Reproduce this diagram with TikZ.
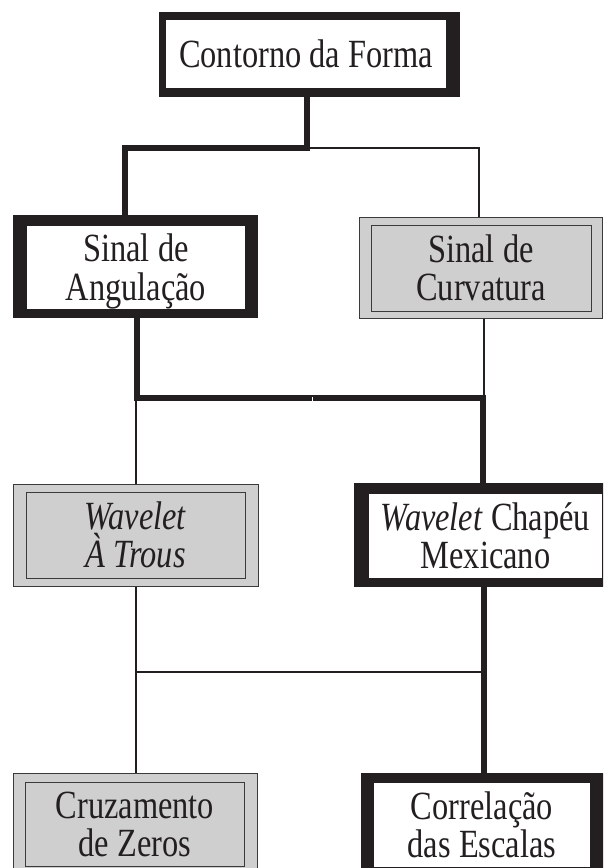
\documentclass[tikz,border=0pt]{standalone}
\usepackage{fontspec}
\setmainfont{Liberation Serif}[FakeStretch=0.81]
\definecolor{ink}{HTML}{231F20}
\definecolor{boxgray}{RGB}{207,207,207}
\definecolor{edge}{HTML}{3A3A3A}
\newcommand{\topstrut}{\rule{0pt}{36pt}}
\newcommand{\botstrut}{\rule[-9pt]{0pt}{9pt}}
\begin{document}
\begin{tikzpicture}[x=1pt,y=-1pt,
  blackout/.style={rectangle, fill=ink, draw=none, inner sep=0pt, outer sep=0pt},
  whitein/.style={rectangle, fill=white, draw=none, inner sep=0pt, outer sep=0pt, align=center, font=\fontsize{40}{38.5}\selectfont, text=ink},
  grayout/.style={rectangle, fill=boxgray, draw=edge, line width=1pt, inner sep=0pt},
  grayin/.style={rectangle, fill=none, draw=edge, line width=1pt, inner sep=0pt, align=center, font=\fontsize{40}{38.5}\selectfont, text=ink},
  thinln/.style={draw=ink, line width=1.2pt},
  thickln/.style={draw=ink, line width=5.5pt, line join=miter},
]
\useasboundingbox (0,0) rectangle (603,868);
\clip (0,0) rectangle (603,868);
\fill[white] (0,0) rectangle (603,868);

\coordinate (h1L) at (125,148);
\coordinate (h1M) at (307,148);
\coordinate (h1R) at (479,148);
\coordinate (t2L) at (136,396);
\coordinate (t2R) at (484,396);
\coordinate (h2L) at (137,398);
\coordinate (h2M1) at (311.5,398);
\coordinate (h2M2) at (312.5,398);
\coordinate (h2R) at (483,398);
\coordinate (h3L) at (136,672);
\coordinate (h3R) at (484,672);

\node[blackout, minimum width=301pt, minimum height=85pt] (topo) at (309.5,54.5) {};
\node[whitein, minimum width=280pt, minimum height=68pt] (topoi) at (306,54) {\topstrut Contorno da Forma\botstrut};

\node[blackout, minimum width=245pt, minimum height=103pt] (ang) at (135.5,266.5) {};
\node[whitein, minimum width=218pt, minimum height=83pt] (angi) at (136,267.5) {\topstrut Sinal de\\Angulação\botstrut};

\node[grayout, minimum width=243pt, minimum height=101pt] (curv) at (480.5,267.5) {};
\node[grayin, minimum width=220pt, minimum height=86pt] (curvi) at (481,268) {\topstrut Sinal de\\Curvatura\botstrut};

\node[grayout, minimum width=245pt, minimum height=102pt] (atr) at (135.5,535) {};
\node[grayin, minimum width=219pt, minimum height=86pt] (atri) at (135.5,535) {\topstrut\textit{Wavelet}\\\textit{À Trous}\botstrut};

\node[blackout, minimum width=261pt, minimum height=104pt] (chap) at (484.5,535) {};
\node[whitein, minimum width=233pt, minimum height=84pt] (chapi) at (485.5,536) {\topstrut\textit{Wavelet} Chapéu\\Mexicano\botstrut};

\node[grayout, minimum width=244pt, minimum height=102pt] (cruz) at (135,824) {};
\node[grayin, minimum width=219pt, minimum height=84pt] (cruzi) at (135,824) {\topstrut Cruzamento\\de Zeros\botstrut};

\node[blackout, minimum width=243pt, minimum height=103pt] (corr) at (482.5,824.5) {};
\node[whitein, minimum width=216pt, minimum height=84pt] (corri) at (482,825) {\topstrut Correlação\\das Escalas\botstrut};

% level 1 -> 2
\draw[thinln] (h1M) -- (h1R) -- (curv.north -| h1R);
\draw[thickln] (topo.south -| h1M) -- (h1M) -- (h1L) -- (ang.north -| h1L);

% level 2 -> 3
\draw[thinln] (curv.south -| t2R) -- (t2R) -- (t2L) -- (atr.north -| t2L);
\draw[thickln] (ang.south -| h2L) -- (h2L) -- (h2M1);
\draw[thickln] (h2M2) -- (h2R) -- (chap.north -| h2R);

% level 3 -> 4
\draw[thinln] (atr.south -| h3L) -- (cruz.north -| h3L);
\draw[thinln] (h3L) -- (h3R);
\draw[thickln] (chap.south -| h3R) -- (corr.north -| h3R);
\end{tikzpicture}
\end{document}
